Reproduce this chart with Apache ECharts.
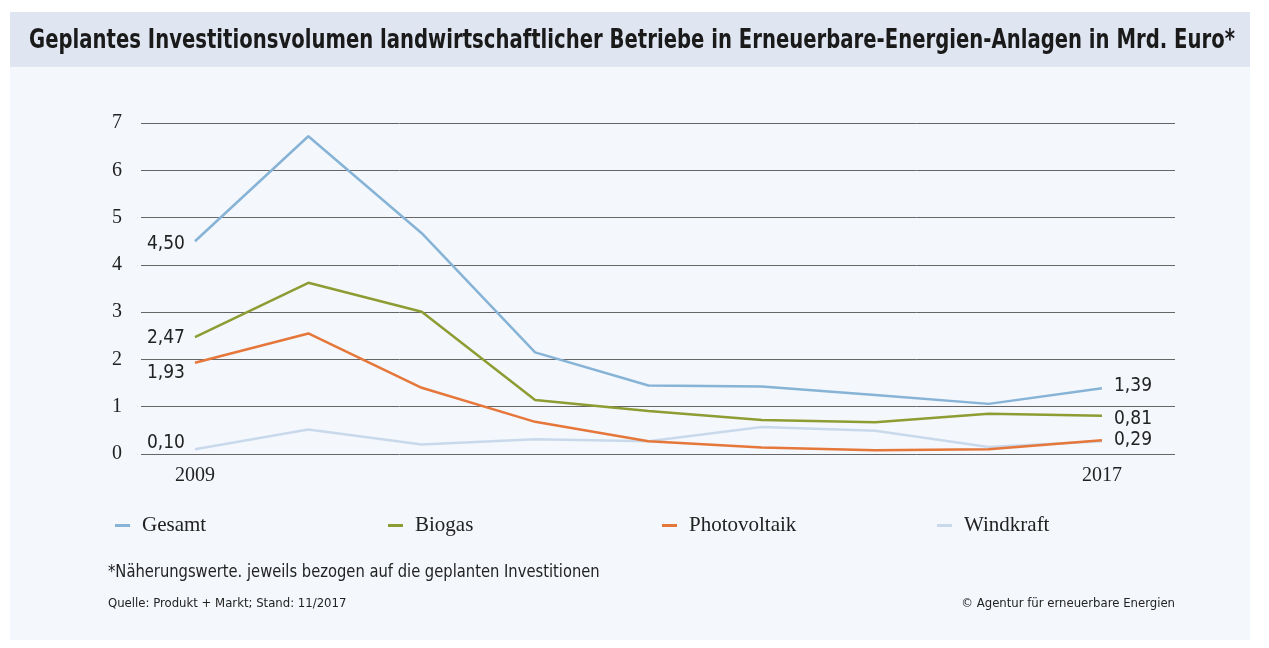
<!DOCTYPE html>
<html>
<head>
<meta charset="utf-8">
<script src="https://cdn.jsdelivr.net/npm/echarts@6/dist/echarts.min.js"></script>
<style>
  html, body { margin: 0; padding: 0; background: #fff; }
  #chart { width: 1269px; height: 648px; }
</style>
</head>
<body>
<div id="chart"></div>
<script>
var years = [2009, 2010, 2011, 2012, 2013, 2014, 2015, 2016, 2017];
var gesamt = [4.50, 6.72, 4.67, 2.15, 1.45, 1.43, 1.25, 1.06, 1.39];
var biogas = [2.47, 3.62, 3.01, 1.14, 0.91, 0.72, 0.67, 0.85, 0.81];
var photovoltaik = [1.93, 2.55, 1.40, 0.68, 0.27, 0.14, 0.08, 0.10, 0.29];
var windkraft = [0.10, 0.52, 0.20, 0.31, 0.27, 0.57, 0.49, 0.15, 0.27];
var yTicks = [0, 1, 2, 3, 4, 5, 6, 7];
var xTickLabels = [2009, 2017];

var serif = '"Liberation Serif", "DejaVu Serif", serif';
var narrow = '"DejaVu Sans Condensed", "Liberation Sans Narrow", "Liberation Sans", sans-serif';

function fmt(v) { return v.toFixed(2).replace('.', ','); }

// first/last point labels, nudged vertically like the original (null = no label)
function buildData(values, startOffset, endOffset) {
  return values.map(function (v, i) {
    var item = { value: [years[i], v] };
    if (i === 0 && startOffset !== null) {
      item.label = { show: true, position: 'left', distance: 10, offset: [0, startOffset] };
    } else if (i === values.length - 1 && endOffset !== null) {
      item.label = { show: true, position: 'right', distance: 12, offset: [0, endOffset] };
    }
    return item;
  });
}

function lineSeries(name, values, color, startOffset, endOffset) {
  return {
    name: name,
    type: 'line',
    data: buildData(values, startOffset, endOffset),
    symbol: 'circle',
    symbolSize: 0,
    showSymbol: true,
    lineStyle: { color: color, width: 2.5 },
    itemStyle: { color: color },
    label: {
      show: false,
      formatter: function (p) { return fmt(p.value[1]); },
      fontFamily: narrow,
      fontSize: 19,
      color: '#222'
    },
    emphasis: { disabled: true }
  };
}

var chart = echarts.init(document.getElementById('chart'));

var legendPos = [110, 383, 657, 932];
var names = ['Gesamt', 'Biogas', 'Photovoltaik', 'Windkraft'];

chart.setOption({
  backgroundColor: '#ffffff',
  animation: false,
  graphic: [
    { type: 'rect', z: -10, shape: { x: 10, y: 12, width: 1240, height: 628 }, style: { fill: '#f4f7fc' } },
    { type: 'rect', z: -9, shape: { x: 10, y: 12, width: 1240, height: 55 }, style: { fill: '#dfe6f1' } },
    { type: 'text', x: 632, y: 41, scaleX: 0.84, style: {
        text: 'Geplantes Investitionsvolumen landwirtschaftlicher Betriebe in Erneuerbare-Energien-Anlagen in Mrd. Euro*',
        font: 'bold 26px ' + narrow, fill: '#1a1a1a', align: 'center', verticalAlign: 'middle' } },
    { type: 'text', x: 108, y: 563, scaleX: 0.91, style: { text: '*Näherungswerte. jeweils bezogen auf die geplanten Investitionen', font: '18px ' + narrow, fill: '#222' } },
    { type: 'text', left: 108, top: 597, style: { text: 'Quelle: Produkt + Markt; Stand: 11/2017', font: '13px ' + narrow, fill: '#222' } },
    { type: 'text', right: 94, top: 597, style: { text: '© Agentur für erneuerbare Energien', font: '13px ' + narrow, fill: '#222' } }
  ],
  legend: names.map(function (n, i) {
    return {
      data: [n],
      left: legendPos[i],
      top: 510,
      icon: 'rect',
      itemWidth: 15,
      itemHeight: 3,
      selectedMode: false,
      textStyle: { fontFamily: serif, fontSize: 21, color: '#222', padding: [0, 0, 0, 7] }
    };
  }),
  grid: { left: 141, right: 94, top: 123, bottom: 194 },
  xAxis: {
    type: 'value',
    min: 2008.524,
    max: 2017.644,
    axisLine: { show: false },
    axisTick: { show: false },
    splitLine: { show: false },
    axisLabel: {
      customValues: xTickLabels,
      margin: 12,
      fontFamily: serif,
      fontSize: 20,
      color: '#222',
      formatter: function (v) { return String(v); }
    }
  },
  yAxis: {
    type: 'value',
    min: yTicks[0],
    max: yTicks[yTicks.length - 1],
    interval: 1,
    axisLine: { show: false },
    axisTick: { show: false },
    axisLabel: { margin: 19, fontFamily: serif, fontSize: 20, color: '#222' },
    splitLine: { lineStyle: { color: '#666', width: 1 } }
  },
  series: [
    lineSeries('Windkraft', windkraft, '#c9d9ec', -6, null),
    lineSeries('Gesamt', gesamt, '#86b3d6', 3, -2),
    lineSeries('Biogas', biogas, '#8d9c33', 1, 3),
    lineSeries('Photovoltaik', photovoltaik, '#e5773a', 10, 0)
  ]
});
</script>
</body>
</html>
